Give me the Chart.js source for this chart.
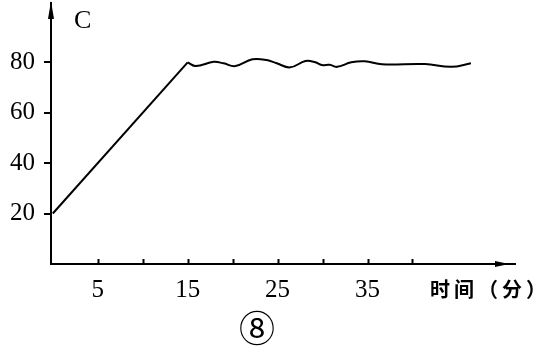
<!DOCTYPE html>
<html lang="zh">
<head>
  <meta charset="UTF-8">
  <style>
    html, body { margin: 0; padding: 0; background: #fff; }
    #wrap { width: 546px; height: 354px; position: relative; }
  </style>
  <title>温度-时间</title>
</head>
<body>
  <script src="https://cdn.jsdelivr.net/npm/chart.js@4.4.0/dist/chart.umd.min.js"></script>
  <div id="wrap"><canvas id="chart" width="546" height="354"></canvas></div>
  <script>
  // heating phase: straight rise from 20 to 80
  const riseTime = [0, 15.0]
  const riseTemp = [20, 79.9]
  // holding phase: wavy around 80
  const holdTime = [15.0, 15.9, 17.9, 19.0, 20.3, 22.2, 23.8, 24.9, 26.4, 28.1, 29.2, 29.9, 30.8, 31.6, 33.2, 34.7, 36.6, 41.4, 44.3, 46.5]
  const holdTemp = [79.9, 78.4, 80.1, 79.5, 78.4, 81.1, 80.8, 79.5, 77.9, 80.4, 79.9, 78.8, 78.9, 78.1, 79.9, 80.3, 79.1, 79.2, 78.1, 79.5]
  const yLabels = [20, 40, 60, 80]
  const xLabels = [5, 15, 25, 35]
  const xTickMarks = [5, 10, 15, 20, 25, 30, 35, 40]

  const toPoints = (xs, ys) => xs.map((x, i) => ({ x: x, y: ys[i] }))

  const extras = {
    id: 'extras',
    afterDraw(chart) {
      const ctx = chart.ctx
      const a = chart.chartArea
      const xs = chart.scales.x
      ctx.save()
      ctx.strokeStyle = '#000'
      ctx.fillStyle = '#000'
      ctx.lineWidth = 2
      // x tick marks pointing up
      xTickMarks.forEach(v => {
        const px = Math.round(xs.getPixelForValue(v)) + 0.5
        ctx.beginPath()
        ctx.moveTo(px, a.bottom)
        ctx.lineTo(px, a.bottom - 5)
        ctx.stroke()
      })
      // arrow heads
      ctx.beginPath()
      ctx.moveTo(a.left, a.top - 2)
      ctx.lineTo(a.left - 3, a.top + 16)
      ctx.lineTo(a.left + 3, a.top + 16)
      ctx.closePath()
      ctx.fill()
      ctx.beginPath()
      ctx.moveTo(a.right - 6, a.bottom)
      ctx.lineTo(a.right - 20, a.bottom - 3)
      ctx.lineTo(a.right - 20, a.bottom + 3)
      ctx.closePath()
      ctx.fill()
      // texts
      ctx.textBaseline = 'alphabetic'
      ctx.textAlign = 'left'
      ctx.font = '26px "Liberation Serif"'
      ctx.fillText('C', 74, 28)
      ctx.font = 'bold 20px "Noto Sans CJK SC"'
      ctx.letterSpacing = '4px'
      ctx.fillText('时间（分）', 430, 297)
      ctx.letterSpacing = '0px'
      ctx.textAlign = 'center'
      ctx.textBaseline = 'middle'
      ctx.font = '36px "Noto Sans CJK SC"'
      ctx.fillText('⑧', 257, 328)
      ctx.restore()
    }
  }

  new Chart(document.getElementById('chart'), {
    type: 'line',
    data: {
      datasets: [
        { data: toPoints(riseTime, riseTemp), borderColor: '#000', borderWidth: 2, pointRadius: 0, tension: 0 },
        { data: toPoints(holdTime, holdTemp), borderColor: '#000', borderWidth: 2, pointRadius: 0, tension: 0.4 }
      ]
    },
    options: {
      responsive: false,
      animation: false,
      layout: { padding: { top: 3, right: 31, left: 0, bottom: 0 } },
      plugins: { legend: { display: false }, tooltip: { enabled: false } },
      scales: {
        x: {
          type: 'linear',
          min: -0.2,
          max: 51.4,
          afterFit: (s) => { s.height = 90; s.paddingLeft = 0; s.paddingRight = 0 },
          grid: { display: false },
          border: { display: true, color: '#000', width: 2 },
          ticks: {
            stepSize: 5,
            autoSkip: false,
            maxRotation: 0,
            padding: 3,
            color: '#000',
            font: { family: 'Liberation Serif', size: 25 },
            callback: (v) => xLabels.includes(v) ? String(v) : ''
          }
        },
        y: {
          min: 0,
          max: 103.4,
          afterFit: (s) => { s.width = 51; s.paddingTop = 0; s.paddingBottom = 0 },
          grid: {
            drawOnChartArea: false,
            drawTicks: true,
            tickLength: 7,
            lineWidth: 2,
            color: (c) => yLabels.includes(c.tick.value) ? '#000' : 'rgba(0,0,0,0)'
          },
          border: { display: true, color: '#000', width: 2 },
          ticks: {
            stepSize: 20,
            autoSkip: false,
            padding: 9,
            color: '#000',
            font: { family: 'Liberation Serif', size: 25 },
            callback: (v) => yLabels.includes(v) ? String(v) : ''
          }
        }
      }
    },
    plugins: [extras]
  })
  </script>
</body>
</html>
